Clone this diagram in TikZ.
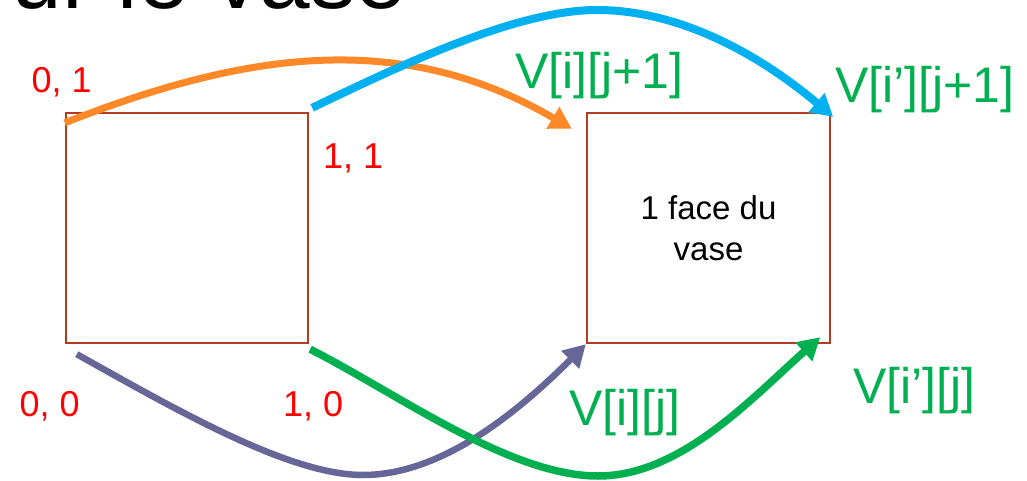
\documentclass[tikz,border=0pt]{standalone}
\usepackage{fontspec}
\setmainfont{Liberation Sans}
\usetikzlibrary{arrows.meta,calc}

\definecolor{rust}{RGB}{178,60,34}
\definecolor{corange}{RGB}{255,137,40}
\definecolor{cblue}{RGB}{0,176,240}
\definecolor{cpurple}{RGB}{102,102,153}
\definecolor{cgreen}{RGB}{0,176,80}

\begin{document}
\begin{tikzpicture}[x=1pt,y=-1pt,
  face/.style={draw=rust,line width=2.4pt,minimum height=230pt,inner sep=0pt,
    align=center,font=\fontsize{33}{41}\selectfont},
  corner/.style={text=red,inner sep=0pt,anchor=base west,
    font=\fontsize{36}{42}\selectfont},
  vlabel/.style={text=cgreen,inner sep=0pt,anchor=base west,
    font=\fontsize{50}{58}\selectfont},
  link/.style={line width=#1,-{Triangle[length=22pt,width=24pt]}},
  link/.default=7pt]

% page frame
\useasboundingbox (0,0) rectangle (1027,481);
\clip (0,0) rectangle (1027,481);
\fill[white] (0,0) rectangle (1027,481);

% title, cut by the top edge
\node[font=\fontsize{91}{100}\selectfont,anchor=base east,inner sep=0pt]
  (title) at (406.6,9) {ur le vase};

% texture square and one face of the vase
\node[face,minimum width=242pt] (L) at (187,228) {};
\node[face,minimum width=243pt] (R) at (708.5,228) {1 face du\\vase};

% texture coordinates
\node[corner] (c01) at (31.5,93) {0, 1};
\node[corner] (c11) at (323,169) {1, 1};
\node[corner] (c00) at (19.5,416) {0, 0};
\node[corner] (c10) at (283,416) {1, 0};

% vertex names
\node[vlabel] (v01) at (515,89) {V[i][j+1]};
\node[vlabel] (v11) at (835,103) {V[i’][j+1]};
\node[vlabel] (v00) at (569,425) {V[i][j]};
\node[vlabel] (v10) at (853,403) {V[i’][j]};

% end points of the mapping arrows
\coordinate (o1) at ($(L.north west)+(0,11)$);
\coordinate (o2) at ($(R.north west)+(-14,17)$);
\coordinate (b1) at ($(L.north east)+(3,-4)$);
\coordinate (b2) at ($(R.north east)+(2,5)$);
\coordinate (p1) at ($(L.south west)+(12,10)$);
\coordinate (p2) at (R.south west);
\coordinate (g1) at ($(L.south east)+(1,5)$);
\coordinate (g2) at ($(R.south east)+(-11,-7)$);

% mapping arrows
\draw[link,corange] (o1) .. controls (240,54) and (398,27) .. (o2);
\draw[link=8pt,cblue] (b1) .. controls (411,60) and (520,10) .. (597,10)
  .. controls (680,10) and (760,55) .. (b2);
\draw[link=6.5pt,cpurple] (p1) .. controls (180,412) and (290,475) .. (363,475)
  .. controls (440,475) and (515,415) .. (p2);
\draw[link=7.5pt,cgreen] (g1) .. controls (400,395) and (510,476) .. (598,476)
  .. controls (680,476) and (750,400) .. (g2);
\end{tikzpicture}
\end{document}
